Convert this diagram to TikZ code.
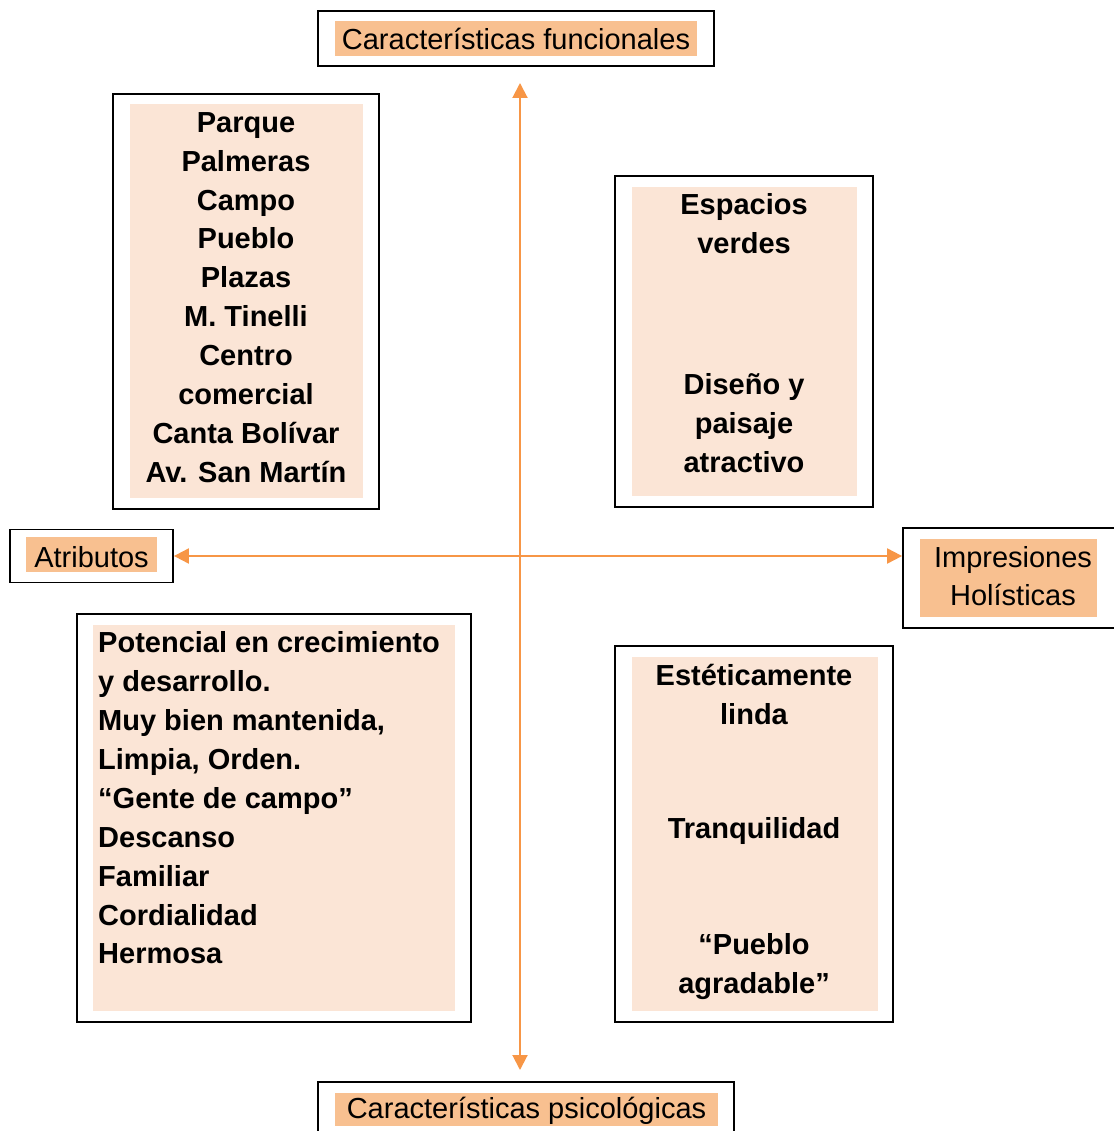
\documentclass[tikz,border=0pt]{standalone}
\usepackage{fontspec}
\setmainfont{Liberation Sans}
\usetikzlibrary{arrows.meta}
\definecolor{strongfill}{HTML}{F8C090}
\definecolor{palefill}{HTML}{FBE5D6}
\definecolor{axis}{HTML}{F79646}
\tikzset{
  outerbox/.style={draw=black, line width=1.8pt, fill=white, inner sep=0pt},
  strongbox/.style={fill=strongfill, inner sep=0pt},
  headtext/.style={inner sep=0pt, font=\fontsize{29}{38}\selectfont, align=center},
  palebox/.style={fill=palefill, inner sep=0pt},
  boldtext/.style={inner sep=0pt, font=\fontsize{29}{38.9}\selectfont\bfseries},
  axisarrow/.style={draw=axis, line width=2pt, {Triangle[length=15pt,width=15pt]}-{Triangle[length=15pt,width=15pt]}}
}
\begin{document}
\begin{tikzpicture}[x=1pt,y=-1pt]
\useasboundingbox (0,0) rectangle (1113,1131);
% headers
\node[outerbox, minimum width=396pt, minimum height=55pt] (topo) at (516,38.5) {};
\node[strongbox, minimum width=362pt, minimum height=35pt] (top) at (516,38.5) {};
\node[headtext] (topt) at (516,39) {Características funcionales};
\node[outerbox, minimum width=163pt, minimum height=53pt] (atro) at (91.5,556) {};
\node[strongbox, minimum width=131pt, minimum height=35pt] (atr) at (91.5,554.5) {};
\node[headtext] (atrt) at (91.5,557) {Atributos};
\node[outerbox, minimum width=222pt, minimum height=100pt] (impo) at (1014,578) {};
\node[strongbox, minimum width=177pt, minimum height=78pt] (imp) at (1008.5,578) {};
\node[headtext] (impt) at (1013,576) {Impresiones\\Holísticas};
\node[outerbox, minimum width=416pt, minimum height=58pt] (boto) at (526,1111) {};
\node[strongbox, minimum width=383pt, minimum height=33pt] (bot) at (526.5,1109.5) {};
\node[headtext] (bott) at (526.5,1110.5) {Características psicológicas};
% quadrant boxes
\node[outerbox, minimum width=266pt, minimum height=415pt] (tlo) at (246,301.5) {};
\node[palebox, minimum width=233pt, minimum height=394pt] (tl) at (246.5,301) {};
\node[boldtext, align=center] (tlt) at (246,297.5) {Parque\\Palmeras\\Campo\\Pueblo\\Plazas\\M. Tinelli\\Centro\\comercial\\Canta Bolívar\\Av. San Martín};
\node[outerbox, minimum width=258pt, minimum height=331pt] (tro) at (744,341.5) {};
\node[palebox, minimum width=225pt, minimum height=309pt] (tr) at (744.5,341.5) {};
\node[boldtext, align=center] (tra) at (744,223.5) {Espacios\\verdes};
\node[boldtext, align=center] (trb) at (744,423.5) {Diseño y\\paisaje\\atractivo};
\node[outerbox, minimum width=394pt, minimum height=408pt] (blo) at (274,818) {};
\node[palebox, minimum width=362pt, minimum height=386pt] (bl) at (274,818) {};
\node[boldtext, align=left, anchor=west] (blt) at (98,798) {Potencial en crecimiento\\y desarrollo.\\Muy bien mantenida,\\Limpia, Orden.\\“Gente de campo”\\Descanso\\Familiar\\Cordialidad\\Hermosa};
\node[outerbox, minimum width=278pt, minimum height=376pt] (bro) at (754,834) {};
\node[palebox, minimum width=246pt, minimum height=354pt] (br) at (755,834) {};
\node[boldtext, align=center] (bra) at (754,694.5) {Estéticamente\\linda};
\node[boldtext, align=center] (brb) at (754,831) {Tranquilidad};
\node[boldtext, align=center] (brc) at (754,967) {“Pueblo\\agradable”};
% axes
\coordinate (vt) at (520,83);
\coordinate (vb) at (520,1070);
\draw[axisarrow] (vt) -- (vb);
\draw[axisarrow] (atro.east) -- (atro.east -| impo.west);
\end{tikzpicture}
\end{document}
